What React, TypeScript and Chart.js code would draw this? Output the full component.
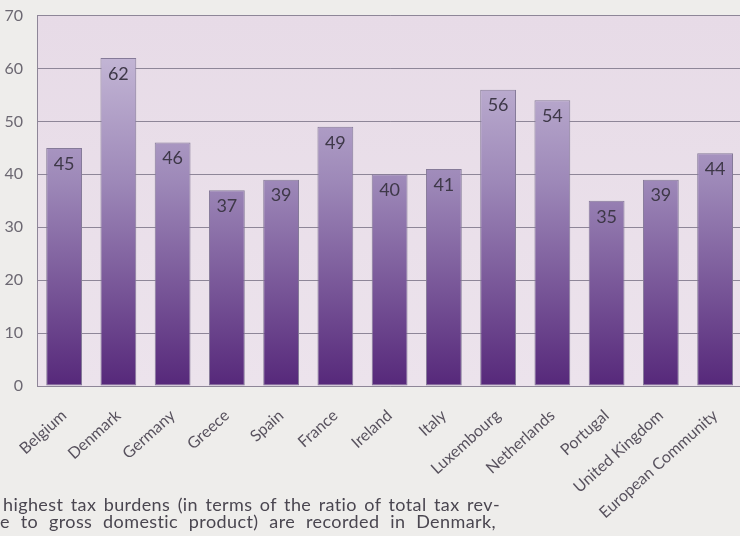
import React, { useEffect, useRef } from "react";
import { Chart, registerables } from "chart.js";

Chart.register(...registerables);

const categories = [
  "Belgium",
  "Denmark",
  "Germany",
  "Greece",
  "Spain",
  "France",
  "Ireland",
  "Italy",
  "Luxembourg",
  "Netherlands",
  "Portugal",
  "United Kingdom",
  "European Community",
];
const taxBurden = [45, 62, 46, 37, 39, 49, 40, 41, 56, 54, 35, 39, 44];
const yTicks = [0, 10, 20, 30, 40, 50, 60, 70];
const paragraphLines = [
  "highest tax burdens (in terms of the ratio of total tax rev-",
  "e to gross domestic product) are recorded in Denmark,",
];

const FONT = "Lato, 'Open Sans', sans-serif";

export default function App() {
  const ref = useRef<HTMLCanvasElement>(null);

  useEffect(() => {
    const canvas = ref.current!;
    const bgPlugin = {
      id: "plotBg",
      beforeDraw(chart: any) {
        const { ctx, chartArea: a, width, height } = chart;
        ctx.save();
        ctx.fillStyle = "#eeedeb";
        ctx.fillRect(0, 0, width, height);
        const g = ctx.createLinearGradient(0, a.top, 0, a.bottom);
        g.addColorStop(0, "#e7dbe7");
        g.addColorStop(1, "#ece3ec");
        ctx.fillStyle = g;
        ctx.fillRect(a.left, a.top, a.right - a.left, a.bottom - a.top);
        ctx.restore();
      },
    };
    const valuePlugin = {
      id: "values",
      afterDatasetsDraw(chart: any) {
        const { ctx } = chart;
        const meta = chart.getDatasetMeta(0);
        ctx.save();
        ctx.font = `18px ${FONT}`;
        ctx.fillStyle = "#3e3848";
        ctx.textAlign = "center";
        ctx.textBaseline = "middle";
        meta.data.forEach((bar: any, i: number) => {
          ctx.fillText(String(taxBurden[i]), bar.x, bar.y + 16);
        });
        ctx.restore();
      },
    };

    const chart = new Chart(canvas, {
      type: "bar",
      data: {
        labels: categories,
        datasets: [
          {
            data: taxBurden,
            backgroundColor: (c: any) => {
              const area = c.chart.chartArea;
              if (!area) return "#7b5f9c";
              const g = c.chart.ctx.createLinearGradient(0, area.top, 0, area.bottom);
              g.addColorStop(0, "#cfc4de");
              g.addColorStop(0.45, "#9d88b8");
              g.addColorStop(1, "#56287a");
              return g;
            },
            borderColor: "#857a98",
            borderWidth: 1,
            borderSkipped: false,
            categoryPercentage: 1,
            barPercentage: 0.66,
          },
        ],
      },
      options: {
        responsive: false,
        animation: false,
        devicePixelRatio: 1,
        layout: { padding: { top: 7, right: 1, left: 0, bottom: 0 } },
        plugins: {
          legend: { display: false },
          tooltip: { enabled: false },
        },
        scales: {
          x: {
            grid: { display: false, drawTicks: false },
            border: { display: false },
            ticks: {
              autoSkip: false,
              minRotation: 42,
              maxRotation: 42,
              padding: 20,
              color: "#58525e",
              font: { family: FONT, size: 16 },
            },
            afterFit(scale: any) {
              scale.height = 150;
            },
          },
          y: {
            min: 0,
            max: 70,
            grid: { color: "#8e8698", lineWidth: 1, drawTicks: false },
            border: { display: true, color: "#8e8698", width: 1 },
            ticks: {
              padding: 14,
              color: "#6c6872",
              font: { family: FONT, size: 16 },
            },
            afterBuildTicks(scale: any) {
              scale.ticks = yTicks.map((v) => ({ value: v }));
            },
            afterFit(scale: any) {
              scale.width = 37;
            },
          },
        },
      },
      plugins: [bgPlugin, valuePlugin],
    } as any);
    return () => chart.destroy();
  }, []);

  const lineStyle = (top: number, left: number, width: number): React.CSSProperties => ({
    position: "absolute",
    top,
    left,
    width,
    fontFamily: FONT,
    fontSize: 18,
    letterSpacing: "0.4px",
    lineHeight: "17px",
    color: "#4a4650",
    textAlign: "justify",
    textAlignLast: "justify" as any,
    whiteSpace: "normal",
  });

  return (
    <div
      style={{
        position: "fixed",
        left: 0,
        top: 0,
        width: 740,
        height: 536,
        overflow: "hidden",
        background: "#eeedeb",
      }}
    >
      <canvas ref={ref} width={748} height={544} style={{ position: "absolute", left: 0, top: -8 }} />
      <div style={lineStyle(496, 3, 497)}>{paragraphLines[0]}</div>
      <div style={lineStyle(513, 0, 496)}>{paragraphLines[1]}</div>
    </div>
  );
}
